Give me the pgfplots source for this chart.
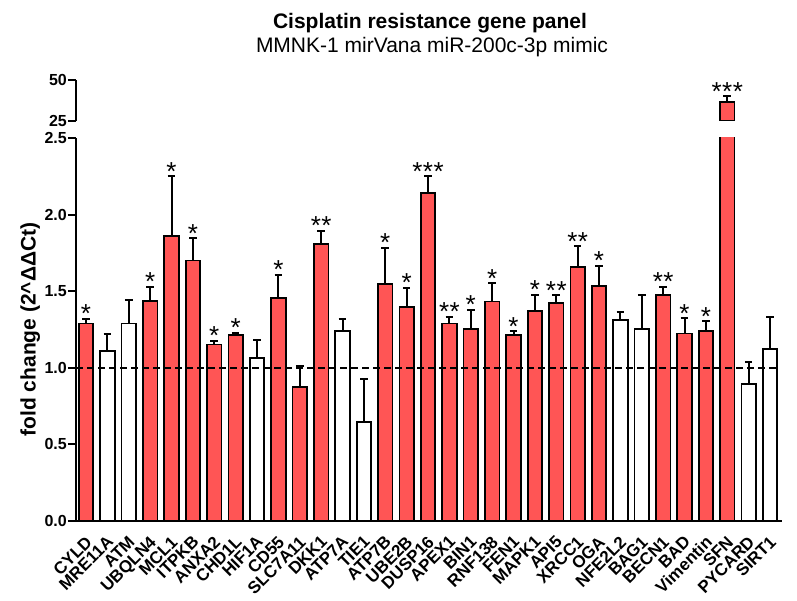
\documentclass[border=0pt]{standalone}
\usepackage{fontspec}
\setmainfont{Liberation Sans}
\usepackage{pgfplots}
\pgfplotsset{compat=1.18}
\usepackage{pgfplotstable}
\definecolor{barred}{RGB}{255,85,85}
\newcommand\sta{*}
\newcommand\stb{*\kern0.5pt*}
\newcommand\stc{*\kern0.5pt*\kern0.5pt*}

% red (significant) bars
\pgfplotstableread{
x y e
0 1.29 0.03
3 1.435 0.095
4 1.86 0.39
5 1.70 0.145
6 1.153 0.024
7 1.212 0.017
9 1.456 0.15
10 0.875 0.139
11 1.808 0.087
14 1.547 0.235
15 1.395 0.126
16 2.143 0.107
17 1.29 0.044
18 1.251 0.129
19 1.432 0.119
20 1.216 0.024
21 1.369 0.108
22 1.422 0.053
23 1.658 0.135
24 1.536 0.131
27 1.475 0.055
28 1.223 0.10
29 1.238 0.067
30 36.4 0
}\redtab

% white bars
\pgfplotstableread{
x y e
1 1.11 0.11
2 1.29 0.15
8 1.066 0.117
12 1.24 0.077
13 0.648 0.279
25 1.31 0.052
26 1.255 0.222
31 0.894 0.142
32 1.121 0.211
}\whitetab

% significance marks: x, top of error bar, stars
\pgfplotstableread{
x t m
0 1.32 a
3 1.53 a
4 2.25 a
5 1.845 a
6 1.177 a
7 1.229 a
9 1.606 a
11 1.895 b
14 1.782 a
15 1.521 a
16 2.25 c
17 1.334 b
18 1.38 a
19 1.551 a
20 1.24 a
21 1.477 a
22 1.475 b
23 1.793 b
24 1.667 a
27 1.53 b
28 1.323 a
29 1.305 a
}\startab

\pgfplotsset{
  barstyle/.style={ybar, bar width=14.5pt, bar shift=0pt, draw=black, line width=1.7pt,
    error bars/y dir=plus, error bars/y explicit,
    error bars/error bar style={line width=2pt, black},
    error bars/error mark options={rotate=90, mark size=3.8pt, line width=2pt, black}},
  starstyle/.style={draw=none, mark=none, nodes near coords={\csname st\pgfplotspointmeta\endcsname},
    point meta=explicit symbolic,
    nodes near coords style={anchor=base, inner sep=0pt, yshift=-4pt, font=\fontsize{26}{26}\selectfont, black}},
}

\begin{document}
\begin{tikzpicture}
\useasboundingbox (0pt,0pt) rectangle (797pt,600pt);
\node[anchor=base, font=\bfseries\fontsize{21}{21}\selectfont] at (430pt,571pt) {Cisplatin resistance gene panel};
\node[anchor=base, font=\fontsize{21}{21}\selectfont] at (432pt,547pt) {MMNK-1 mirVana miR-200c-3p mimic};

\begin{axis}[
  at={(76pt,79pt)}, anchor=south west, scale only axis,
  width=706pt, height=383pt,
  xmin=-0.47, xmax=32.56, ymin=0, ymax=2.5,
  axis lines=left, axis line style={-, line width=2.2pt},
  ytick={0,0.5,1,1.5,2,2.5}, yticklabels={0.0,0.5,1.0,1.5,2.0,2.5},
  y tick label style={font=\bfseries\fontsize{16}{16}\selectfont, inner sep=1pt},
  major tick length=8pt, tick align=outside,
  y tick style={line width=2pt, black},
  xtick={0,...,32},
  xticklabels={CYLD,MRE11A,ATM,UBQLN4,MCL1,ITPKB,ANXA2,CHD1L,HIF1A,CD55,SLC7A11,DKK1,ATP7A,TIE1,ATP7B,UBE2B,DUSP16,APEX1,BIN1,RNF138,FEN1,MAPK1,API5,XRCC1,OGA,NFE2L2,BAG1,BECN1,BAD,Vimentin,SFN,PYCARD,SIRT1},
  x tick style={draw=none},
  x tick label style={rotate=45, anchor=north east, inner sep=0pt, font=\bfseries\fontsize{17}{17}\selectfont, yshift=-3pt, xshift=-5pt},
  ylabel={fold change (2\textasciicircum ΔΔCt)},
  ylabel style={font=\bfseries\fontsize{21}{21}\selectfont},
]
\addplot[barstyle, fill=barred] table[x=x, y=y, y error=e] {\redtab};
\addplot[barstyle, fill=white] table[x=x, y=y, y error=e] {\whitetab};
\addplot[black, line width=2.5pt, dash pattern=on 7pt off 4pt] coordinates {(-0.47,1) (32.28,1)};
\addplot[starstyle] table[x=x, y=t, meta=m] {\startab};
\end{axis}

\begin{axis}[
  at={(76pt,479pt)}, anchor=south west, scale only axis,
  width=706pt, height=41pt,
  xmin=-0.47, xmax=32.56, ymin=25, ymax=50,
  axis lines=left, axis line style={-, line width=2.2pt},
  hide x axis,
  ytick={25,50}, yticklabels={25,50},
  y tick label style={font=\bfseries\fontsize{16}{16}\selectfont, inner sep=1pt},
  major tick length=8pt, tick align=outside,
  y tick style={line width=2pt, black},
]
\addplot[barstyle, fill=barred] coordinates {(30,36.4) +- (0,3.8)};
\addplot[starstyle] coordinates {(30,40.2) [c]};
\end{axis}
\end{tikzpicture}
\end{document}
